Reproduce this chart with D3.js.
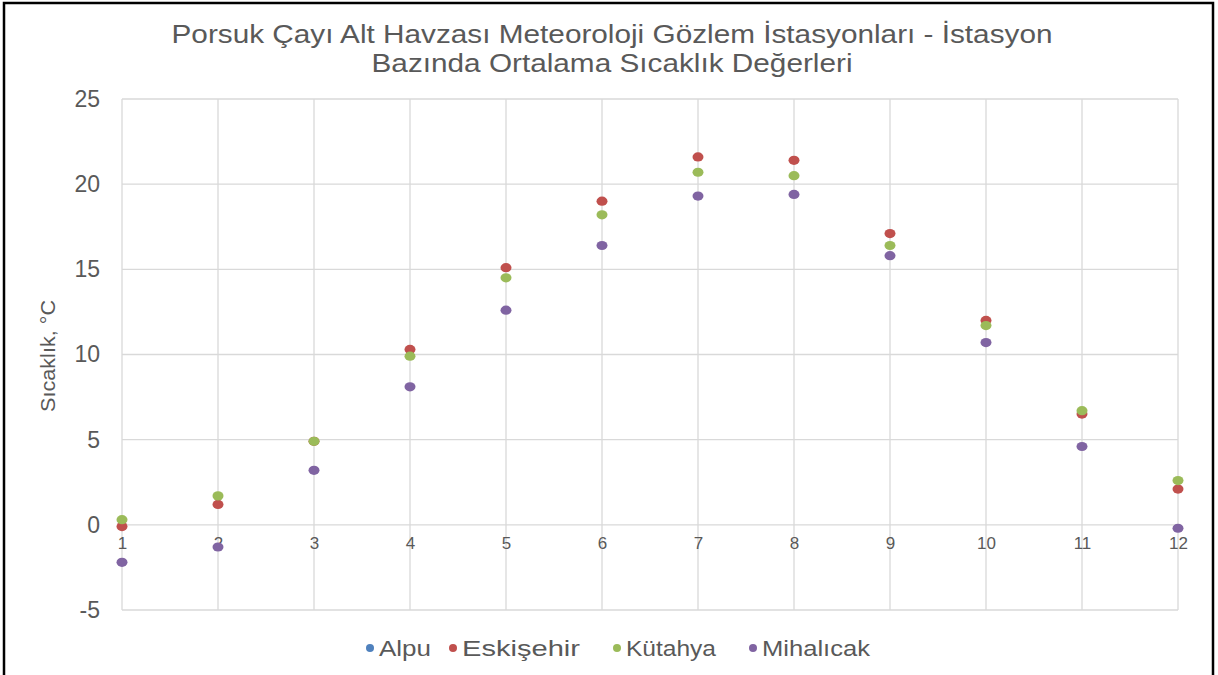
<!DOCTYPE html>
<html>
<head>
<meta charset="utf-8">
<script src="https://cdn.jsdelivr.net/npm/d3@7"></script>
<style>
  body { margin: 0; background: #fff; }
  svg { display: block; font-family: "Liberation Sans", Arial, sans-serif; }
</style>
</head>
<body>
<div id="chart"></div>
<script>
// months on the x axis
const months = [1, 2, 3, 4, 5, 6, 7, 8, 9, 10, 11, 12];

// series values (°C); Alpu shows no markers
const alpu      = [null, null, null, null, null, null, null, null, null, null, null, null];
const eskisehir = [-0.1, 1.2, 4.9, 10.3, 15.1, 19.0, 21.6, 21.4, 17.1, 12.0, 6.5, 2.1];
const kutahya   = [0.3, 1.7, 4.9, 9.9, 14.5, 18.2, 20.7, 20.5, 16.4, 11.7, 6.7, 2.6];
const mihalicak = [-2.2, -1.3, 3.2, 8.1, 12.6, 16.4, 19.3, 19.4, 15.8, 10.7, 4.6, -0.2];

const seriesNames = ["Alpu", "Eskişehir", "Kütahya", "Mihalıcak"];
const seriesColors = ["#4f81bd", "#c0504d", "#9bbb59", "#8064a2"];
const yTicks = [-5, 0, 5, 10, 15, 20, 25];

const titleLines = [
  "Porsuk Çayı Alt Havzası Meteoroloji Gözlem İstasyonları - İstasyon",
  "Bazında Ortalama Sıcaklık Değerleri"
];

const width = 1218, height = 675;
const series = [alpu, eskisehir, kutahya, mihalicak].map((vals, i) => ({
  name: seriesNames[i],
  color: seriesColors[i],
  values: vals.map((v, j) => ({ m: months[j], v: v }))
}));

const svg = d3.select("#chart").append("svg")
  .attr("width", width)
  .attr("height", height);

// outer frame
svg.append("rect")
  .attr("x", 4).attr("y", 3)
  .attr("width", 1209).attr("height", 680)
  .attr("fill", "#fff")
  .attr("stroke", "#000")
  .attr("stroke-width", 2.5);

const x = d3.scaleLinear().domain([1, 12]).range([122, 1178]);
const y = d3.scaleLinear().domain([-5, 25]).range([610, 99]);

// gridlines
const grid = svg.append("g").attr("stroke", "#d9d9d9").attr("stroke-width", 1.3);
grid.selectAll("line.h").data(yTicks).join("line")
  .attr("class", "h")
  .attr("x1", x(1)).attr("x2", x(12))
  .attr("y1", d => y(d)).attr("y2", d => y(d));
grid.selectAll("line.v").data(months).join("line")
  .attr("class", "v")
  .attr("x1", d => x(d)).attr("x2", d => x(d))
  .attr("y1", y(25)).attr("y2", y(-5));

// y axis labels (plain hyphen for negatives, like the original)
const yAxis = d3.axisLeft(y).tickValues(yTicks).tickSize(0).tickPadding(22)
  .tickFormat(d => String(d));
svg.append("g")
  .attr("transform", `translate(${x(1)},0)`)
  .call(yAxis)
  .call(g => g.select(".domain").remove())
  .call(g => g.selectAll("text")
    .attr("fill", "#595959")
    .style("font-size", "23px")
    .style("font-family", "Liberation Sans, Arial, sans-serif"));

// x axis labels sit under the zero line
const xAxis = d3.axisBottom(x).tickValues(months).tickFormat(d3.format("d")).tickSize(0).tickPadding(12);
svg.append("g")
  .attr("transform", `translate(0,${y(0)})`)
  .call(xAxis)
  .call(g => g.select(".domain").remove())
  .call(g => g.selectAll("text")
    .attr("fill", "#595959")
    .style("font-size", "17px")
    .style("font-family", "Liberation Sans, Arial, sans-serif"));

// y axis title
svg.append("text")
  .attr("transform", `translate(55,356) rotate(-90)`)
  .attr("text-anchor", "middle")
  .attr("fill", "#595959")
  .style("font-size", "20px")
  .attr("textLength", 112)
  .attr("lengthAdjust", "spacingAndGlyphs")
  .text("Sıcaklık, °C");

// title
const titleWidths = [881, 481];
svg.append("g").selectAll("text").data(titleLines).join("text")
  .attr("x", 612)
  .attr("y", (d, i) => 43 + i * 29)
  .attr("text-anchor", "middle")
  .attr("fill", "#595959")
  .style("font-size", "25px")
  .attr("textLength", (d, i) => titleWidths[i])
  .attr("lengthAdjust", "spacingAndGlyphs")
  .text(d => d);

// points
const pts = svg.append("g");
series.forEach(s => {
  pts.append("g").selectAll("ellipse")
    .data(s.values.filter(d => d.v != null))
    .join("ellipse")
    .attr("cx", d => x(d.m))
    .attr("cy", d => y(d.v))
    .attr("rx", 5.5).attr("ry", 4.6)
    .attr("fill", s.color);
});

// legend
const legendX = [370, 453, 617, 753];
const legendW = [52, 118, 90, 108];
const legend = svg.append("g").selectAll("g").data(series).join("g")
  .attr("transform", (d, i) => `translate(${legendX[i]},648)`);
legend.append("circle").attr("r", 4).attr("fill", d => d.color);
legend.append("text")
  .attr("x", 9).attr("dy", "0.35em")
  .attr("fill", "#595959")
  .style("font-size", "22px")
  .attr("textLength", (d, i) => legendW[i])
  .attr("lengthAdjust", "spacingAndGlyphs")
  .text(d => d.name);
</script>
</body>
</html>
